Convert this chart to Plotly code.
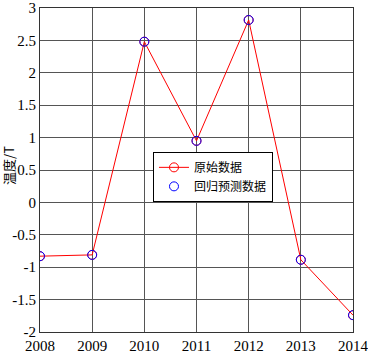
import plotly.graph_objects as go

years = [2008, 2009, 2010, 2011, 2012, 2013, 2014]
original = [-0.83, -0.81, 2.48, 0.95, 2.815, -0.885, -1.74]
predicted = [-0.83, -0.81, 2.48, 0.95, 2.815, -0.885, -1.74]
y_ticks = [3, 2.5, 2, 1.5, 1, 0.5, 0, -0.5, -1, -1.5, -2]

num_font = "Liberation Serif"
cjk_font = "Noto Sans CJK SC"

fig = go.Figure()
fig.add_trace(go.Scatter(
    x=years, y=original, mode="lines+markers", name="原始数据",
    line=dict(color="#ff0000", width=1),
    marker=dict(symbol="circle-open", size=9, color="#ff0000", line=dict(width=1)),
))
fig.add_trace(go.Scatter(
    x=years, y=predicted, mode="markers", name="回归预测数据",
    marker=dict(symbol="circle-open", size=9, color="#0000ff", line=dict(width=1)),
))

fig.update_layout(
    width=368, height=354,
    margin=dict(l=40, r=15, t=8, b=22, autoexpand=False),
    paper_bgcolor="white", plot_bgcolor="white",
    font=dict(family=num_font, size=14, color="black"),
    showlegend=True,
    legend=dict(
        x=0.361, y=0.556, xanchor="left", yanchor="top",
        bordercolor="black", borderwidth=1, bgcolor="white",
        font=dict(size=12, family=cjk_font),
        itemwidth=30, tracegroupgap=0,
    ),
    annotations=[dict(
        text="温度/T", xref="paper", yref="paper", x=-0.103, y=0.515,
        xanchor="center", yanchor="middle", textangle=-90, showarrow=False,
        font=dict(size=13, family=cjk_font),
    )],
)
fig.update_xaxes(
    range=[2008, 2014], tickvals=years, ticktext=[str(y) for y in years],
    showgrid=True, gridcolor="#555555", gridwidth=1,
    showline=True, linecolor="#333333", linewidth=1, mirror=True,
    ticks="", zeroline=False, tickfont=dict(size=15, family=num_font),
    automargin=False, ticklabeloverflow="allow",
)
fig.update_yaxes(
    range=[-2, 3], tickvals=y_ticks, ticktext=[str(t) for t in y_ticks],
    showgrid=True, gridcolor="#555555", gridwidth=1,
    showline=True, linecolor="#333333", linewidth=1, mirror=True,
    ticks="", zeroline=False, tickfont=dict(size=15, family=num_font),
    automargin=False, ticklabeloverflow="allow",
)

fig.write_html(
    "out.html",
    config={"displayModeBar": False},
    post_script="document.body.style.margin='0';document.body.style.overflow='hidden';",
)
